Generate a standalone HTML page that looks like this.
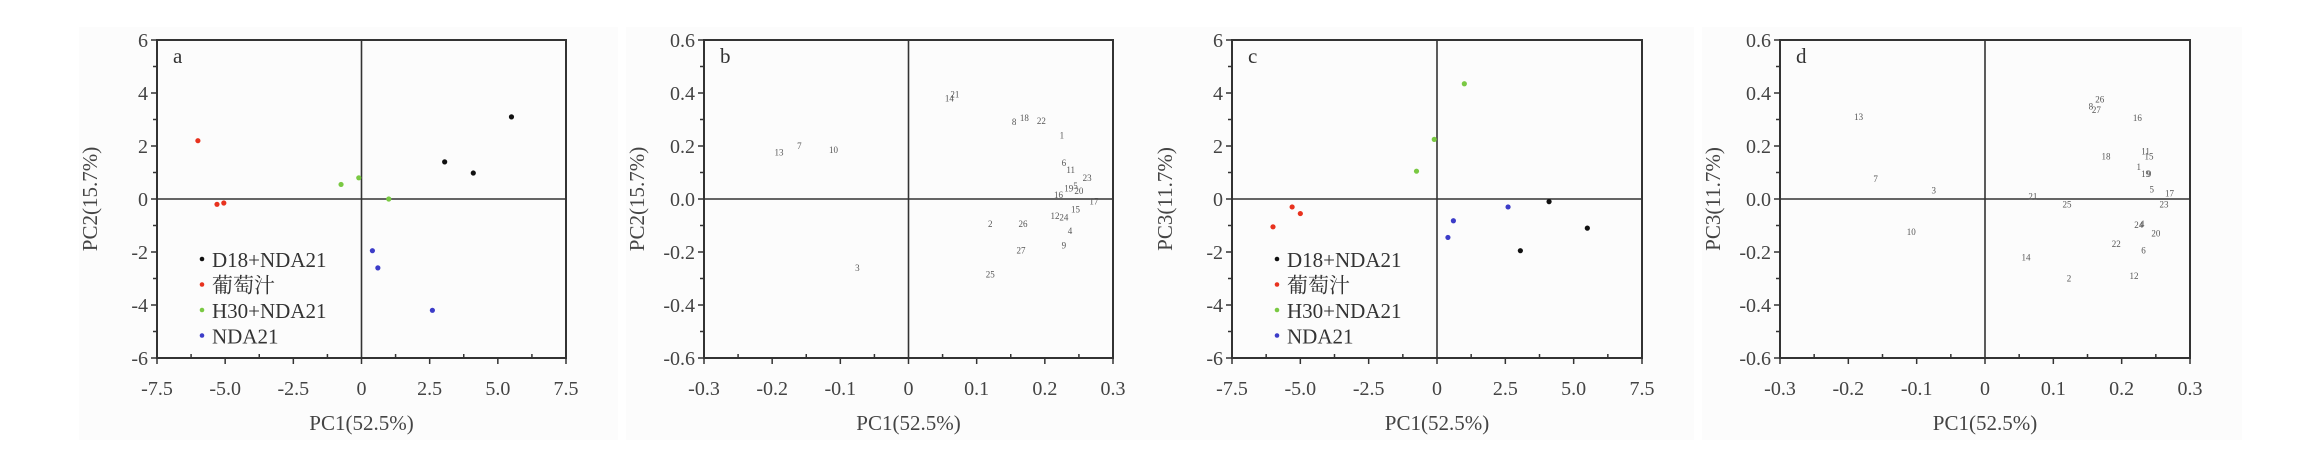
<!DOCTYPE html>
<html><head><meta charset="utf-8">
<style>
html,body{margin:0;padding:0;background:#fff;}
svg{display:block;font-family:"Liberation Serif","Noto Serif CJK SC",serif;}
</style></head>
<body>
<svg id="chart" width="2310" height="449" viewBox="0 0 2310 449" xmlns="http://www.w3.org/2000/svg"></svg>
<script>
// ---- Panel a / c: sample scores ----
const groupNames = ["D18+NDA21", "葡萄汁", "H30+NDA21", "NDA21"];
const groupColors = ["#111111", "#e8321e", "#7ac943", "#3c3cc8"];
const scoreTicksX = [-7.5, -5.0, -2.5, 0, 2.5, 5.0, 7.5];
const scoreTickLabelsX = ["-7.5", "-5.0", "-2.5", "0", "2.5", "5.0", "7.5"];
const scoreTicksY = [-6, -4, -2, 0, 2, 4, 6];
const scoreTickLabelsY = ["-6", "-4", "-2", "0", "2", "4", "6"];
const aPC1 = [[3.05, 4.1, 5.5], [-6.0, -5.3, -5.05], [-0.75, -0.1, 1.0], [0.4, 0.6, 2.6]];
const aPC2 = [[1.4, 0.98, 3.1], [2.2, -0.2, -0.15], [0.55, 0.8, 0.0], [-1.95, -2.6, -4.2]];
const cPC1 = [[4.1, 5.5, 3.05], [-5.3, -5.0, -6.0], [1.0, -0.1, -0.75], [2.6, 0.6, 0.4]];
const cPC3 = [[-0.1, -1.1, -1.95], [-0.3, -0.55, -1.05], [4.35, 2.25, 1.05], [-0.3, -0.82, -1.45]];
// ---- Panel b / d: loadings ----
const loadTicksX = [-0.3, -0.2, -0.1, 0, 0.1, 0.2, 0.3];
const loadTickLabelsX = ["-0.3", "-0.2", "-0.1", "0", "0.1", "0.2", "0.3"];
const loadTicksY = [-0.6, -0.4, -0.2, 0, 0.2, 0.4, 0.6];
const loadTickLabelsY = ["-0.6", "-0.4", "-0.2", "0.0", "0.2", "0.4", "0.6"];
const bLabels = ["14","21","8","18","22","1","13","7","10","6","11","23","5","19","20","16","17","15","12","24","2","26","4","9","27","3","25"];
const bX = [0.06,0.068,0.155,0.17,0.195,0.225,-0.19,-0.16,-0.11,0.228,0.238,0.262,0.245,0.235,0.25,0.22,0.272,0.245,0.215,0.228,0.12,0.168,0.237,0.228,0.165,-0.075,0.12];
const bY = [0.38,0.395,0.29,0.305,0.295,0.24,0.175,0.2,0.185,0.135,0.11,0.08,0.05,0.04,0.03,0.015,-0.01,-0.04,-0.065,-0.07,-0.095,-0.095,-0.12,-0.175,-0.195,-0.26,-0.285];
const dLabels = ["13","7","3","10","26","8","27","16","18","11","15","1","19","9","5","17","21","25","23","24","4","20","22","6","14","2","12"];
const dX = [-0.185,-0.16,-0.075,-0.108,0.168,0.155,0.163,0.223,0.177,0.235,0.24,0.225,0.235,0.24,0.244,0.27,0.07,0.12,0.262,0.225,0.23,0.25,0.192,0.232,0.06,0.123,0.218];
const dY = [0.31,0.075,0.032,-0.125,0.375,0.35,0.335,0.305,0.16,0.18,0.16,0.12,0.095,0.095,0.035,0.02,0.01,-0.02,-0.02,-0.098,-0.095,-0.13,-0.17,-0.195,-0.22,-0.3,-0.29];

const NS = "http://www.w3.org/2000/svg";
const svg = document.getElementById("chart");
function mk(tag, attrs, parent) {
  const e = document.createElementNS(NS, tag);
  for (const k in attrs) e.setAttribute(k, attrs[k]);
  (parent || svg).appendChild(e);
  return e;
}
const TOP = 40, BOT = 358;

function panel(id, left, right, xmin, xmax, ymin, ymax, xt, xtl, yt, ytl, yTitle, letter) {
  const g = mk("g", {});
  
  
  const bg = mk("rect", {x: left - 78, y: 27, width: right - left + 130, height: 413, fill: "#fcfcfc"}, g);
  
  
  const sx = v => left + (v - xmin) / (xmax - xmin) * (right - left);
  const sy = v => BOT - (v - ymin) / (ymax - ymin) * (BOT - TOP);
  const frame = mk("rect", {x: left, y: TOP, width: right - left, height: BOT - TOP, fill: "none", stroke: "#333", "stroke-width": 2}, g);
  
  
  const vz = mk("line", {x1: sx(0), x2: sx(0), y1: TOP, y2: BOT, stroke: "#333", "stroke-width": 1.6}, g);
  
  
  const hz = mk("line", {x1: left, x2: right, y1: sy(0), y2: sy(0), stroke: "#333", "stroke-width": 1.6}, g);
  
  
  // x ticks
  xt.forEach((v, i) => {
    const x = sx(v);
    mk("line", {x1: x, x2: x, y1: BOT, y2: BOT + 6, stroke: "#333", "stroke-width": 1.5}, g);
    if (i < xt.length - 1) {
      const m = sx((v + xt[i + 1]) / 2);
      mk("line", {x1: m, x2: m, y1: BOT, y2: BOT - 4, stroke: "#333", "stroke-width": 1.5}, g);
    }
    const t = mk("text", {x: x, y: 395, "text-anchor": "middle", "font-size": 20, fill: "#444"}, g);
    t.textContent = xtl[i];
    
    
  });
  yt.forEach((v, i) => {
    const y = sy(v);
    mk("line", {x1: left - 6, x2: left, y1: y, y2: y, stroke: "#333", "stroke-width": 1.5}, g);
    if (i < yt.length - 1) {
      const m = sy((v + yt[i + 1]) / 2);
      mk("line", {x1: left - 4, x2: left, y1: m, y2: m, stroke: "#333", "stroke-width": 1.5}, g);
    }
    const t = mk("text", {x: left - 9, y: y + 7, "text-anchor": "end", "font-size": 20, fill: "#444"}, g);
    t.textContent = ytl[i];
    
    
  });
  const xtit = mk("text", {x: (left + right) / 2, y: 430, "text-anchor": "middle", "font-size": 21, fill: "#444"}, g);
  xtit.textContent = "PC1(52.5%)";
  
  
  const yx = left - 60, yy = (TOP + BOT) / 2;
  const ytit = mk("text", {x: yx, y: yy, "text-anchor": "middle", "font-size": 21, fill: "#444", transform: `rotate(-90 ${yx} ${yy})`}, g);
  ytit.textContent = yTitle;
  
  
  const lt = mk("text", {x: left + 16, y: 63, "font-size": 21, fill: "#333"}, g);
  lt.textContent = letter;
  
  
  return {g, sx, sy};
}

function scores(p, xs, ys, legX) {
  groupNames.forEach((name, gi) => {
    xs[gi].forEach((v, j) => {
      const c = mk("circle", {cx: p.sx(v), cy: p.sy(ys[gi][j]), r: 2.6, fill: groupColors[gi]}, p.g);
      
      
    });
    const ly = 265 + gi * 25.5;
    const d = mk("circle", {cx: legX, cy: ly - 6, r: 2.3, fill: groupColors[gi]}, p.g);
    
    
    const t = mk("text", {x: legX + 10, y: ly + 2, "font-size": 21, fill: "#333"}, p.g);
    t.textContent = name;
    
    
  });
}
function loads(p, labels, xs, ys) {
  labels.forEach((l, i) => {
    const t = mk("text", {x: p.sx(xs[i]), y: p.sy(ys[i]) + 3, "text-anchor": "middle", "font-size": 9, fill: "#555"}, p.g);
    t.textContent = l;
    
    
  });
}

const pa = panel("a", 157, 566, -7.5, 7.5, -6, 6, scoreTicksX, scoreTickLabelsX, scoreTicksY, scoreTickLabelsY, "PC2(15.7%)", "a");
scores(pa, aPC1, aPC2, 202);
const pb = panel("b", 704, 1113, -0.3, 0.3, -0.6, 0.6, loadTicksX, loadTickLabelsX, loadTicksY, loadTickLabelsY, "PC2(15.7%)", "b");
loads(pb, bLabels, bX, bY);
const pc = panel("c", 1232, 1642, -7.5, 7.5, -6, 6, scoreTicksX, scoreTickLabelsX, scoreTicksY, scoreTickLabelsY, "PC3(11.7%)", "c");
scores(pc, cPC1, cPC3, 1277);
const pd = panel("d", 1780, 2190, -0.3, 0.3, -0.6, 0.6, loadTicksX, loadTickLabelsX, loadTicksY, loadTickLabelsY, "PC3(11.7%)", "d");
loads(pd, dLabels, dX, dY);
</script>
</body></html>
